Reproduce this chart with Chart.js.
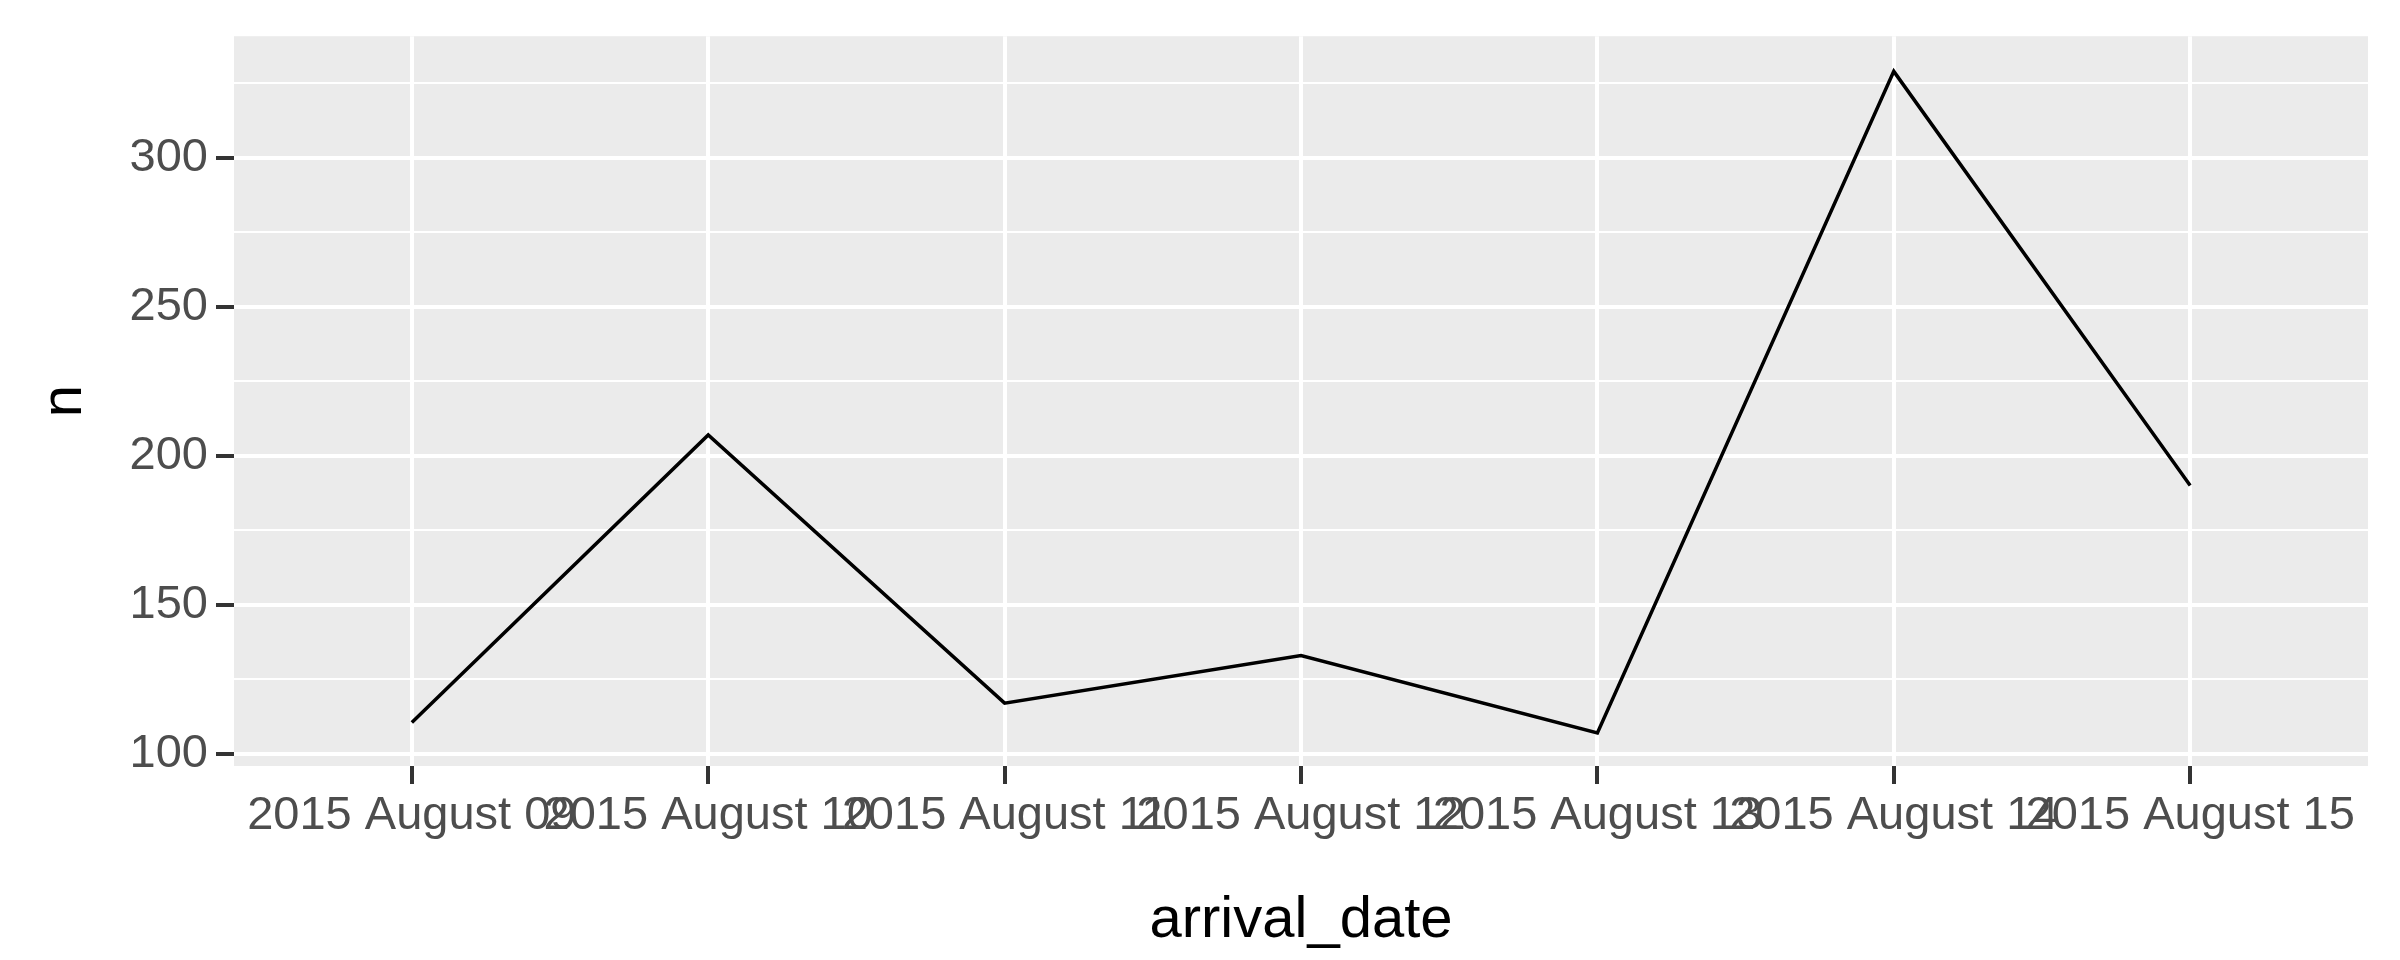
<!DOCTYPE html>
<html>
<head>
<script src="https://cdn.jsdelivr.net/npm/chart.js@4"></script>
<style>body{margin:0;background:#fff}</style>
</head>
<body>
<canvas id="myChart" width="2400" height="960"></canvas>
<script>
const dates = ['2015 August 09', '2015 August 10', '2015 August 11', '2015 August 12',
               '2015 August 13', '2015 August 14', '2015 August 15'];
const counts = [110.5, 207, 117, 133, 107, 329, 190];
const yTicks = [100, 125, 150, 175, 200, 225, 250, 275, 300, 325];

const panelBg = {
    id: 'panelBg',
    beforeDraw(chart) {
        const a = chart.chartArea, ctx = chart.ctx;
        ctx.save();
        ctx.fillStyle = '#EBEBEB';
        ctx.fillRect(a.left, a.top, a.right - a.left, a.bottom - a.top);
        ctx.restore();
    }
};

const ctx = document.getElementById('myChart');
new Chart(ctx, {
    type: 'line',
    data: {
        datasets: [{
            data: counts.map((v, i) => ({ x: i, y: v })),
            borderColor: '#000',
            borderWidth: 3.5,
            pointRadius: 0,
            tension: 0
        }]
    },
    options: {
        responsive: false,
        animation: false,
        layout: { padding: { top: 31, right: 32, left: 0, bottom: 0 } },
        plugins: { legend: { display: false }, tooltip: { enabled: false } },
        scales: {
            x: {
                type: 'linear',
                min: -0.6,
                max: 6.6,
                afterBuildTicks: s => { s.ticks = dates.map((d, i) => ({ value: i })); },
                afterFit: s => { s.height = 194; },
                ticks: {
                    callback: v => dates[v],
                    color: '#4D4D4D',
                    font: { family: 'Liberation Sans', size: 47 },
                    maxRotation: 0,
                    autoSkip: false,
                    padding: 4
                },
                grid: { color: '#fff', lineWidth: 4, tickLength: 18, tickColor: '#333', tickWidth: 4 },
                border: { display: false },
                title: {
                    display: true, text: 'arrival_date', color: '#000',
                    font: { family: 'Liberation Sans', size: 58 }, padding: { top: 0 }
                }
            },
            y: {
                min: 95.9,
                max: 340.8,
                afterBuildTicks: s => { s.ticks = yTicks.map(v => ({ value: v })); },
                afterFit: s => { s.width = 234; },
                ticks: {
                    callback: v => (v % 50 === 0 ? v : ''),
                    color: '#4D4D4D',
                    font: { family: 'Liberation Sans', size: 47 },
                    padding: 8
                },
                grid: {
                    color: '#fff',
                    lineWidth: c => (c.tick && c.tick.value % 50 === 0 ? 4 : 2),
                    tickLength: 18,
                    tickColor: c => (c.tick && c.tick.value % 50 === 0 ? '#333' : 'rgba(0,0,0,0)'),
                    tickWidth: 4
                },
                border: { display: false },
                title: {
                    display: true, text: 'n', color: '#000',
                    font: { family: 'Liberation Sans', size: 58 }, padding: { top: 30, bottom: 0 }
                }
            }
        }
    },
    plugins: [panelBg]
});
</script>
</body>
</html>
